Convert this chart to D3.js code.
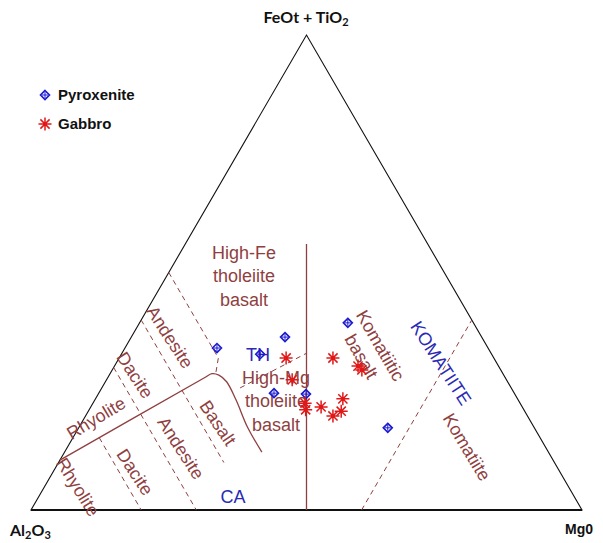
<!DOCTYPE html>
<html>
<head>
<meta charset="utf-8">
<script src="https://cdn.jsdelivr.net/npm/d3@7"></script>
<style>
  body { margin: 0; background: #fff; }
  svg { display: block; }
</style>
</head>
<body>
<svg></svg>
<script>
const width = 603
const height = 543

// compositions are [Al2O3, FeOt+TiO2, MgO] in %
const pyroxenite = [
  [35.7, 36.4, 27.9], [49.2, 34.1, 16.7], [42.0, 32.8, 25.2], [22.8, 39.4, 37.8],
  [43.6, 24.6, 31.8], [37.9, 24.4, 37.7], [26.6, 17.3, 56.1]
]
const gabbro = [
  [37.7, 32.0, 30.3], [29.2, 32.0, 38.8], [25.5, 30.3, 44.2], [25.2, 29.5, 45.3],
  [38.9, 27.4, 33.7], [39.0, 22.5, 38.5], [39.6, 21.1, 39.3], [36.5, 21.7, 41.8],
  [35.3, 19.8, 44.9], [33.3, 20.8, 45.9], [31.7, 23.4, 44.9]
]

// field boundaries (Jensen cation plot)
const thcaBoundary = [
  [89.5, 10.5, 0], [54.7, 27.8, 17.5], [52.8, 28.7, 18.5], [51.7, 28.4, 19.9],
  [51.0, 27.0, 22.0], [51.2, 23.2, 25.6], [52.0, 17.3, 30.7], [52.0, 12.2, 35.8]
]
const solidLines = [
  [[50, 0, 50], [22, 56, 22]]
]
const dashedLines = [
  [[50, 50, 0], [50, 32, 18], [52, 28.9, 19.1]],
  [[60, 40, 0], [60, 10, 30]],
  [[70, 30, 0], [70, 0, 30]],
  [[80, 15.2, 4.8], [80, 0, 20]],
  [[49.2, 25.7, 25.1], [33.5, 33, 33.5]],
  [[40, 0, 60], [0, 40, 60]]
]

const series = [
  { name: "Pyroxenite", data: pyroxenite },
  { name: "Gabbro", data: gabbro }
]

const brown = "#8f3f3f"
const blue = "#2a2ab4"

const svg = d3.select("svg")
  .attr("width", width)
  .attr("height", height)
  .style("font-family", "'Liberation Sans', Arial, sans-serif")

const x = d3.scaleLinear().domain([0, 100]).range([31, 582])
const y = d3.scaleLinear().domain([0, 100]).range([510, 35])

function proj(d) {
  return [x(d[2] + d[1] / 2), y(d[1])]
}

const line = d3.line().x(d => proj(d)[0]).y(d => proj(d)[1])

// frame
const corners = [[100, 0, 0], [0, 0, 100], [0, 100, 0]]
svg.append("path")
  .attr("d", line(corners) + "Z")
  .attr("fill", "none")
  .attr("stroke", "#111")
  .attr("stroke-width", 1.1)
svg.append("path")
  .attr("d", line([corners[0], corners[1]]))
  .attr("stroke", "#111")
  .attr("stroke-width", 2)

// boundaries
svg.append("g").selectAll("path")
  .data(dashedLines)
  .enter().append("path")
  .attr("d", line)
  .attr("fill", "none")
  .attr("stroke", brown)
  .attr("stroke-width", 1)
  .attr("stroke-dasharray", "5,4")

svg.append("g").selectAll("path")
  .data(solidLines)
  .enter().append("path")
  .attr("d", line)
  .attr("fill", "none")
  .attr("stroke", brown)
  .attr("stroke-width", 1.3)

svg.append("path")
  .attr("d", d3.line().x(d => proj(d)[0]).y(d => proj(d)[1]).curve(d3.curveCatmullRom)(thcaBoundary))
  .attr("fill", "none")
  .attr("stroke", brown)
  .attr("stroke-width", 1.3)

// field names
const labels = [
  { t: ["High-Fe", "tholeiite", "basalt"], x: 244, y: 276, r: 0, c: brown },
  { t: ["High-Mg", "tholeiite", "basalt"], x: 276, y: 401, r: 0, c: brown },
  { t: ["TH"], x: 258, y: 355, r: 0, c: blue },
  { t: ["CA"], x: 233, y: 497, r: 0, c: blue },
  { t: ["KOMATIITE"], x: 441, y: 363, r: 57, c: blue },
  { t: ["Komatiite"], x: 467, y: 447, r: 59, c: brown },
  { t: ["Komatiitic", "basalt"], x: 371, y: 351, r: 60, c: brown, lh: 22 },
  { t: ["Andesite"], x: 170, y: 337, r: 57, c: brown },
  { t: ["Dacite"], x: 135, y: 375, r: 57, c: brown },
  { t: ["Rhyolite"], x: 96, y: 418, r: -31, c: brown },
  { t: ["Basalt"], x: 218, y: 423, r: 56, c: brown },
  { t: ["Andesite"], x: 181, y: 448, r: 57, c: brown },
  { t: ["Dacite"], x: 135, y: 472, r: 57, c: brown },
  { t: ["Rhyolite"], x: 78, y: 487, r: 58, c: brown }
]

const lab = svg.append("g").selectAll("text")
  .data(labels)
  .enter().append("text")
  .attr("transform", d => "translate(" + d.x + "," + d.y + ") rotate(" + d.r + ")")
  .attr("text-anchor", "middle")
  .attr("fill", d => d.c)
  .style("font-size", "18px")

lab.selectAll("tspan")
  .data(d => d.t.map((s, i) => ({ s: s, i: i, n: d.t.length, lh: d.lh || 23.5 })))
  .enter().append("tspan")
  .attr("x", 0)
  .attr("y", d => (d.i - (d.n - 1) / 2) * d.lh)
  .attr("dy", "0.35em")
  .text(d => d.s)

// markers
function drawPyx(g) {
  g.append("path")
    .attr("d", "M0,-4.5L4.5,0L0,4.5L-4.5,0Z")
    .attr("fill", "none")
    .attr("stroke", "#1a1ad0")
    .attr("stroke-width", 1.6)
  g.append("path")
    .attr("d", "M0,-3V3M-3,0H3")
    .attr("stroke", "#1a1ad0")
    .attr("stroke-width", 1)
}

function drawGab(g) {
  g.append("path")
    .attr("d", "M0,-6.5V6.5M-6.5,0H6.5M-4.6,-4.6L4.6,4.6M-4.6,4.6L4.6,-4.6")
    .attr("stroke", "#e01818")
    .attr("stroke-width", 1.5)
  g.append("circle")
    .attr("r", 1.8)
    .attr("fill", "#e01818")
}

const drawers = [drawPyx, drawGab]

series.forEach((s, k) => {
  svg.append("g").selectAll("g")
    .data(s.data)
    .enter().append("g")
    .attr("transform", d => "translate(" + proj(d) + ")")
    .each(function () { drawers[k](d3.select(this)) })
})

// legend
const legend = svg.append("g").selectAll("g")
  .data(series)
  .enter().append("g")
  .attr("transform", (d, i) => "translate(45," + (95 + i * 29) + ")")
legend.each(function (d, i) { drawers[i](d3.select(this)) })
legend.append("text")
  .attr("x", 13)
  .attr("dy", "0.35em")
  .style("font-size", "15px")
  .style("font-weight", "bold")
  .attr("fill", "#111")
  .text(d => d.name)

// apex titles
const title = svg.append("g")
  .style("font-family", "Lato, 'Open Sans', sans-serif")
  .style("font-weight", "bold")
  .attr("fill", "#111")

const feLabel = title.append("text").attr("x", 306).attr("y", 23).attr("text-anchor", "middle").style("font-size", "16px")
feLabel.append("tspan").text("FeOt + TiO")
feLabel.append("tspan").attr("dy", 3).style("font-size", "11px").text("2")

const alLabel = title.append("text").attr("x", 10).attr("y", 536).style("font-size", "16px")
alLabel.append("tspan").text("Al")
alLabel.append("tspan").attr("dy", 2.5).style("font-size", "11px").text("2")
alLabel.append("tspan").attr("dy", -2.5).text("O")
alLabel.append("tspan").attr("dy", 2.5).style("font-size", "11px").text("3")

svg.append("text")
  .attr("x", 565).attr("y", 534)
  .style("font-size", "14px")
  .style("font-weight", "bold")
  .attr("fill", "#111")
  .text("Mg0")
</script>
</body>
</html>
